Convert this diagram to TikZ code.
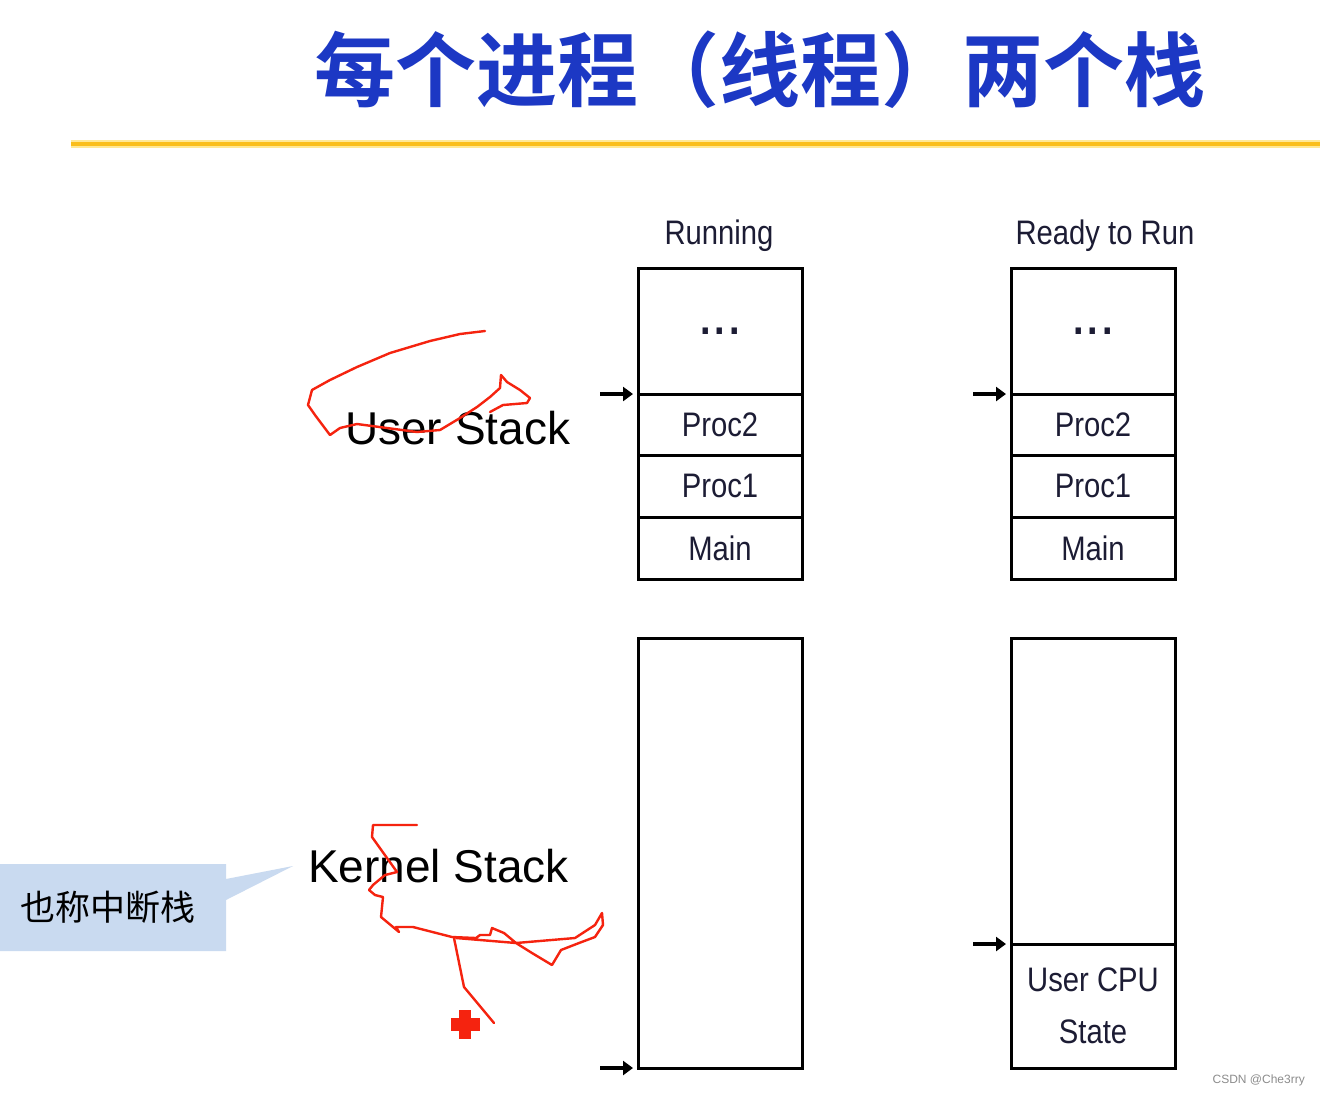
\documentclass[tikz,border=0pt]{standalone}
\usepackage{fontspec}
\usetikzlibrary{arrows.meta}
\setmainfont{Liberation Sans}
\newfontfamily\cjkb[BoldFont={Noto Sans CJK SC Bold}]{Noto Sans CJK SC}
\newfontfamily\cjkr{Noto Sans CJK SC}
\newfontfamily\cond[FakeStretch=0.86]{Liberation Sans}
\definecolor{titleblue}{RGB}{28,56,196}
\definecolor{gold}{RGB}{250,190,28}
\definecolor{goldlight}{RGB}{255,232,150}
\definecolor{calloutblue}{RGB}{201,218,240}
\definecolor{inkred}{RGB}{245,35,15}
\definecolor{navy}{RGB}{28,28,52}
\tikzset{
  cell/.style={draw=black, line width=3pt, minimum width=164pt, inner sep=0pt, outer sep=0pt,
    font=\cond\fontsize{34}{40}\selectfont, text=navy, align=center},
  stacklabel/.style={font=\cond\fontsize{34}{40}\selectfont, text=navy, inner sep=0pt},
  biglabel/.style={font=\fontsize{46}{50}\selectfont, text=black, inner sep=0pt},
  arr/.style={line width=3.4pt, arrows={-Triangle[length=10pt,width=14pt]}, shorten >=5pt},
  scribble/.style={draw=inkred, line width=2.4pt, line join=round, line cap=round}
}
\newcommand{\stackdots}{\raisebox{-4pt}{\fontsize{44}{44}\selectfont\bfseries .\hspace{4pt}.\hspace{4pt}.}}
\begin{document}
\begin{tikzpicture}[x=1pt,y=-1pt]
\useasboundingbox (0,0) rectangle (1320,1096);
\fill[white] (0,0) rectangle (1320,1096);
% title
\node[inner sep=0pt, text=titleblue, font=\cjkb\bfseries\fontsize{81}{81}\selectfont] (title) at (760,70) {每个进程（线程）两个栈};
% gold rule
\coordinate (g1) at (71,144);
\coordinate (g2) at (1320,144);
\draw[goldlight, line width=8pt] (g1) -- (g2);
\draw[gold, line width=4.5pt] (g1) -- (g2);
% column headers
\node[stacklabel] (hrun) at (719,236) {Running};
\node[stacklabel] (hready) at (1105,236) {Ready to Run};
% running user stack
\node[cell, minimum height=126pt] (r0) at (720,331) {\stackdots};
\node[cell, minimum height=61pt] (r1) at (720,424.5) {Proc2};
\node[cell, minimum height=62pt] (r2) at (720,486) {Proc1};
\node[cell, minimum height=62pt] (r3) at (720,548) {Main};
% ready user stack
\node[cell, minimum height=126pt] (q0) at (1093,331) {\stackdots};
\node[cell, minimum height=61pt] (q1) at (1093,424.5) {Proc2};
\node[cell, minimum height=62pt] (q2) at (1093,486) {Proc1};
\node[cell, minimum height=62pt] (q3) at (1093,548) {Main};
% kernel stacks
\node[cell, minimum height=430pt] (rk) at (720,853) {};
\node[cell, minimum height=306pt] (qk0) at (1093,791) {};
\node[cell, minimum height=124pt] (qk1) at (1093,1006) {User CPU\\[12pt]State};
% arrows
\coordinate (ar1) at (600,394);
\coordinate (ar2) at (973,394);
\coordinate (ar3) at (973,944);
\coordinate (ar4) at (600,1068);
\draw[arr] (ar1) -- (r1.north west);
\draw[arr] (ar2) -- (q1.north west);
\draw[arr] (ar3) -- (qk1.north west);
\draw[arr] (ar4) -- (rk.south west);
% big labels
\node[biglabel, anchor=west] (ustack) at (345,428) {User Stack};
\node[biglabel, anchor=west] (kstack) at (308,866) {Kernel Stack};
% callout
\fill[calloutblue] (0,864) -- (226,864) -- (226,879) -- (293,866) -- (226,900) -- (226,951) -- (0,951) -- cycle;
\node[inner sep=0pt, font=\cjkr\fontsize{35}{35}\selectfont, text=black] (callout) at (108,907) {也称中断栈};
% red scribbles
\draw[scribble] (485,331) -- (460,334) -- (430,341) -- (390,353) -- (357,367) -- (330,380) -- (312,390) -- (308,405) -- (315,415) -- (330,435) -- (340,428) -- (357,424) -- (387,428) -- (417,432) -- (440,430) -- (460,418) -- (477,407) -- (490,397) -- (500,388) -- (501,375) -- (507,382) -- (520,390) -- (530,398) -- (527,403) -- (503,405) -- (490,412);
\draw[scribble] (417,825) -- (373,825) -- (372,837) -- (397,872) -- (385,875) -- (373,885) -- (369,890) -- (375,895) -- (383,897) -- (381,917) -- (393,927) -- (399,932) -- (396,927) -- (413,927) -- (452,937) -- (476,938) -- (480,935) -- (490,935) -- (492,928) -- (504,933) -- (516,943) -- (532,953) -- (552,965) -- (561,950) -- (579,943) -- (595,937) -- (603,925) -- (602,913) -- (595,925) -- (575,938) -- (516,943) -- (456,938);
\draw[scribble] (454,938) -- (464,987) -- (494,1023);
% red plus
\fill[inkred] (459,1010) rectangle (471,1039);
\fill[inkred] (451,1018) rectangle (480,1031);
% watermark
\node[inner sep=0pt, anchor=east, font=\fontsize{12}{12}\selectfont, text=black!45] (wm) at (1305,1080) {CSDN @Che3rry};
\end{tikzpicture}
\end{document}
